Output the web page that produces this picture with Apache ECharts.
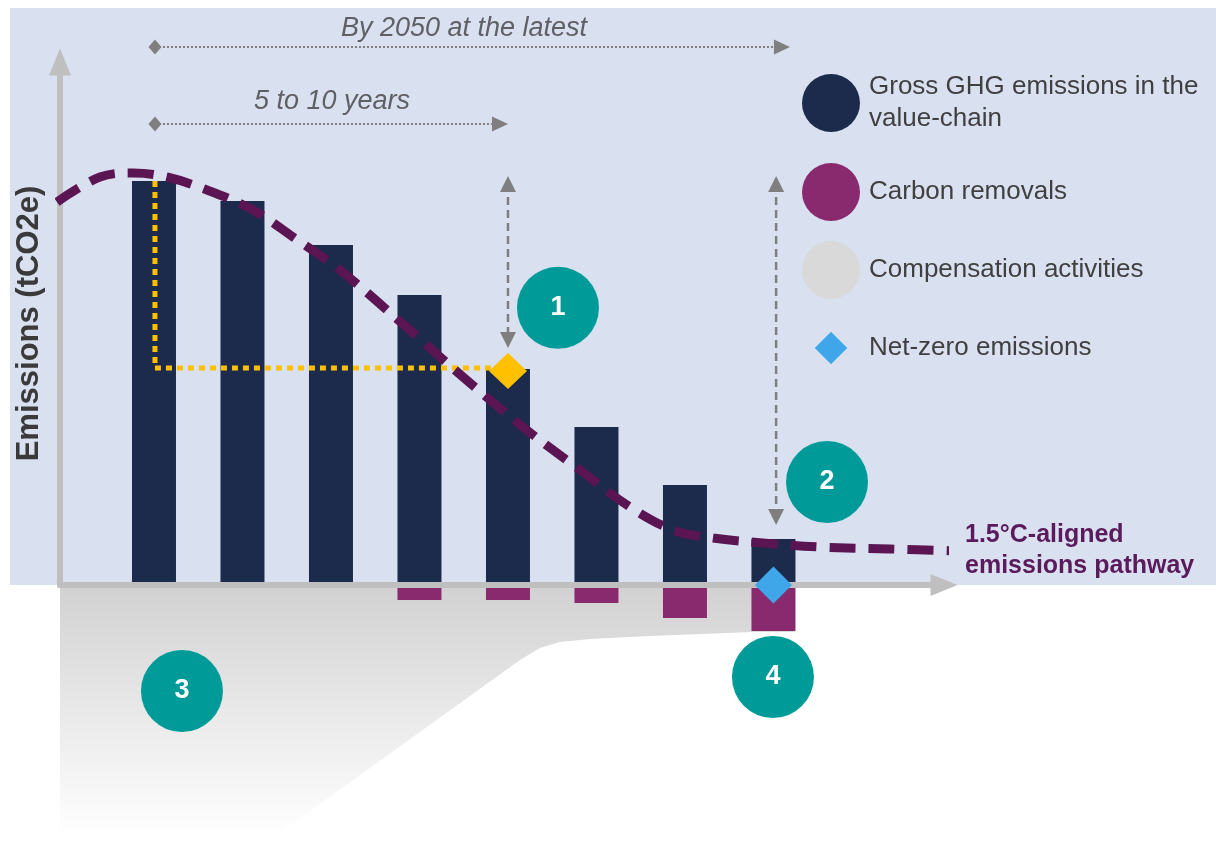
<!DOCTYPE html>
<html>
<head>
<meta charset="utf-8">
<script src="https://cdn.jsdelivr.net/npm/echarts@6/dist/echarts.min.js"></script>
<style>html,body{margin:0;padding:0;background:#ffffff}#chart{width:1216px;height:852px}</style>
</head>
<body>
<div id="chart"></div>
<script>
// ---- data ----
const barPositions = [1, 2, 3, 4, 5, 6, 7, 8];
const grossEmissions = [101, 96, 85, 72.5, 54, 39.5, 25, 11.5];
const removalPositions = [4, 5, 6, 7, 8];
const carbonRemovals = [-3.75, -3.75, -4.5, -8.25, -11.5];
const pathwayX = [-0.096, 0.39, 0.763, 1.147, 1.599, 2.119, 2.571, 3.102, 3.927, 4.492, 5.169, 5.814, 6.379, 6.864, 7.316, 7.881, 8.525, 9.316, 10.107];
const pathwayY = [95.75, 102, 103, 102, 98.75, 93.75, 87, 78.75, 63, 52, 39.5, 28.75, 19.5, 13.75, 11.75, 10.5, 9.5, 9, 8.5];
const compensationX = [-0.085, 2.356, 5.136, 5.362, 5.588, 5.927, 6.605, 7.757, 8.243];
const compensationY = [-63, -63, -18.75, -15.75, -14.25, -13.5, -12.75, -11.75, -11.75];
const targetPathX = [1.011, 1.011, 5];
const targetPathY = [101, 54.25, 54.25];
const interimTarget = [5, 53.5];
const netZeroPoint = [8, 0];
const stepLabels = ['1', '2', '3', '4'];
const stepX = [5.565, 8.605, 1.316, 7.994];
const stepY = [69.3, 25.75, -26.5, -23];
const spanLabels = ['By 2050 at the latest', '5 to 10 years'];
const spanX = [4.503, 3.011];
const spanTextY = [139.25, 121];
const spanLineY = [134.5, 115.25];
const spanStart = 1.011;
const spanEnd = [8.096, 4.91];
const gapArrowX = [5, 8.03];
const gapArrowTop = [100.25, 100.25];
const gapArrowBottom = [61.25, 17];

const C = {
  navy: '#1c2a4b', plum: '#892a6f', grey: '#d9d9d9', blue: '#3fa7e9',
  teal: '#009b98', yellow: '#ffc000', path: '#5b1552', arrow: '#7f7f7f',
  bg: '#d9e1f1', axis: '#bfbfbf', text: '#404040'
};
const FONT = "'Liberation Sans', Arial, Helvetica, sans-serif";

const zip = (xs, ys) => xs.map((x, i) => [x, ys[i]]);

const arrowSeries = [];
spanLabels.forEach((t, i) => {
  arrowSeries.push({
    type: 'line', name: 'span' + i, z: 6, silent: true, clip: false,
    symbol: 'triangle', showSymbol: true,
    itemStyle: { color: C.arrow, opacity: 1 },
    lineStyle: { color: C.arrow, width: 2, type: [2, 2] },
    data: [
      { value: [spanStart, spanLineY[i]], symbol: 'diamond', symbolSize: [13, 15] },
      { value: [spanEnd[i], spanLineY[i]], symbol: 'triangle', symbolSize: [15, 16], symbolRotate: -90 }
    ]
  });
});
gapArrowX.forEach((x, i) => {
  arrowSeries.push({
    type: 'line', name: 'gap' + i, z: 6, silent: true, clip: false,
    symbol: 'triangle', showSymbol: true,
    itemStyle: { color: C.arrow, opacity: 1 },
    lineStyle: { color: C.arrow, width: 2.5, type: [8, 5] },
    data: [
      { value: [x, gapArrowTop[i]], symbolSize: [16, 16], symbolRotate: 0 },
      { value: [x, gapArrowBottom[i]], symbolSize: [16, 16], symbolRotate: 180 }
    ]
  });
});

const legendText = { fontSize: 26, lineHeight: 32, color: C.text, fontFamily: FONT, padding: [0, 0, 0, 4] };

const chart = echarts.init(document.getElementById('chart'), null, { renderer: 'canvas' });
chart.setOption({
  animation: false,
  textStyle: { fontFamily: FONT },
  graphic: [{
    type: 'rect', z: -10, silent: true,
    shape: { x: 10, y: 8, width: 1206, height: 577 },
    style: { fill: C.bg }
  }],
  legend: [{
    orient: 'vertical', left: 797, top: 66, itemWidth: 58, itemHeight: 58,
    selectedMode: false,
    data: [{ name: 'Gross GHG emissions in the value-chain', icon: 'circle', itemStyle: { color: C.navy, opacity: 1, borderWidth: 0 } }],
    formatter: n => n.replace(' value-chain', '\nvalue-chain'),
    textStyle: legendText
  }, {
    orient: 'vertical', left: 797, top: 158, itemWidth: 58, itemHeight: 58, itemGap: 20,
    selectedMode: false,
    data: [
      { name: 'Carbon removals', icon: 'circle', itemStyle: { color: C.plum, opacity: 1, borderWidth: 0 } },
      { name: 'Compensation activities', icon: 'circle', itemStyle: { color: C.grey, opacity: 1, borderWidth: 0 } },
      { name: 'Net-zero emissions', icon: 'path://M0,0M100,100M50,22L78,50L50,78L22,50Z', itemStyle: { color: C.blue, opacity: 1, borderWidth: 0 } }
    ],
    textStyle: legendText
  }],
  grid: { left: 60, right: 272, top: 62, bottom: 267, containLabel: false },
  xAxis: {
    type: 'value', min: -0.062, max: 9.927, z: 3,
    axisLine: { show: true, onZero: false, symbol: ['none', 'triangle'], symbolSize: [22, 27], lineStyle: { color: C.axis, width: 6 } },
    axisTick: { show: false }, axisLabel: { show: false }, splitLine: { show: false }
  },
  yAxis: {
    type: 'value', min: 0, max: 130.75, z: 3,
    name: 'Emissions (tCO2e)', nameLocation: 'middle', nameGap: 15,
    nameTextStyle: { fontSize: 31, fontWeight: 'bold', color: '#3a3a3a', fontFamily: FONT },
    axisLine: { show: true, onZero: false, symbol: ['none', 'triangle'], symbolSize: [22, 27], lineStyle: { color: C.axis, width: 6 } },
    axisTick: { show: false }, axisLabel: { show: false }, splitLine: { show: false }
  },
  series: [
    {
      type: 'line', name: 'Compensation activities', z: 1, clip: false, silent: true,
      symbol: 'none', smooth: false,
      itemStyle: { color: C.grey },
      lineStyle: { width: 0, opacity: 0 },
      areaStyle: {
        opacity: 1,
        color: { type: 'linear', x: 0, y: 0, x2: 0, y2: 1, colorStops: [
          { offset: 0, color: '#d1d1d1' }, { offset: 0.55, color: '#ebebeb' }, { offset: 1, color: '#ffffff' }
        ] }
      },
      data: zip(compensationX, compensationY)
    },
    {
      type: 'bar', name: 'Gross GHG emissions in the value-chain', z: 2, clip: false,
      barWidth: 44, barGap: '-100%',
      itemStyle: { color: C.navy, opacity: 1 },
      data: zip(barPositions, grossEmissions)
    },
    {
      type: 'bar', name: 'Carbon removals', z: 2, clip: false,
      barWidth: 44, barGap: '-100%',
      itemStyle: { color: C.plum, opacity: 1 },
      data: zip(removalPositions, carbonRemovals)
    },
    {
      type: 'line', name: 'target', z: 4, silent: true, symbol: 'none',
      lineStyle: { color: C.yellow, width: 5, type: [6, 5] },
      data: zip(targetPathX, targetPathY)
    },
    {
      type: 'line', name: '1.5°C-aligned emissions pathway', z: 5, clip: false, silent: true,
      symbol: 'none', smooth: 0.35,
      itemStyle: { color: C.path },
      lineStyle: { color: C.path, width: 9, type: [26, 13] },
      endLabel: {
        show: true, formatter: '1.5°C-aligned\nemissions pathway', distance: 16,
        color: '#5b1a5b', fontWeight: 'bold', fontSize: 25, lineHeight: 31, fontFamily: FONT, align: 'left'
      },
      data: zip(pathwayX, pathwayY)
    },
    ...arrowSeries,
    {
      type: 'scatter', name: 'Interim target', z: 7, clip: false, silent: true,
      symbol: 'diamond', symbolSize: [38, 36],
      itemStyle: { color: C.yellow, opacity: 1 },
      data: [interimTarget]
    },
    {
      type: 'scatter', name: 'Net-zero emissions', z: 7, clip: false, silent: true,
      symbol: 'diamond', symbolSize: [37, 37],
      itemStyle: { color: C.blue, opacity: 1 },
      data: [netZeroPoint]
    },
    {
      type: 'scatter', name: 'steps', z: 7, clip: false, silent: true,
      symbol: 'circle', symbolSize: 82,
      itemStyle: { color: C.teal, opacity: 1 },
      label: { show: true, position: 'inside', formatter: p => p.value[2], color: '#ffffff', fontSize: 27, fontWeight: 'bold', fontFamily: FONT },
      data: stepLabels.map((s, i) => [stepX[i], stepY[i], s])
    },
    {
      type: 'scatter', name: 'spanText', z: 7, clip: false, silent: true,
      symbol: 'circle', symbolSize: 1,
      itemStyle: { color: 'rgba(0,0,0,0)' },
      label: { show: true, position: 'inside', formatter: p => p.value[2], color: C.text, fontSize: 27, fontStyle: 'italic', fontFamily: FONT },
      data: spanLabels.map((s, i) => [spanX[i], spanTextY[i], s])
    }
  ]
});
</script>
</body>
</html>
